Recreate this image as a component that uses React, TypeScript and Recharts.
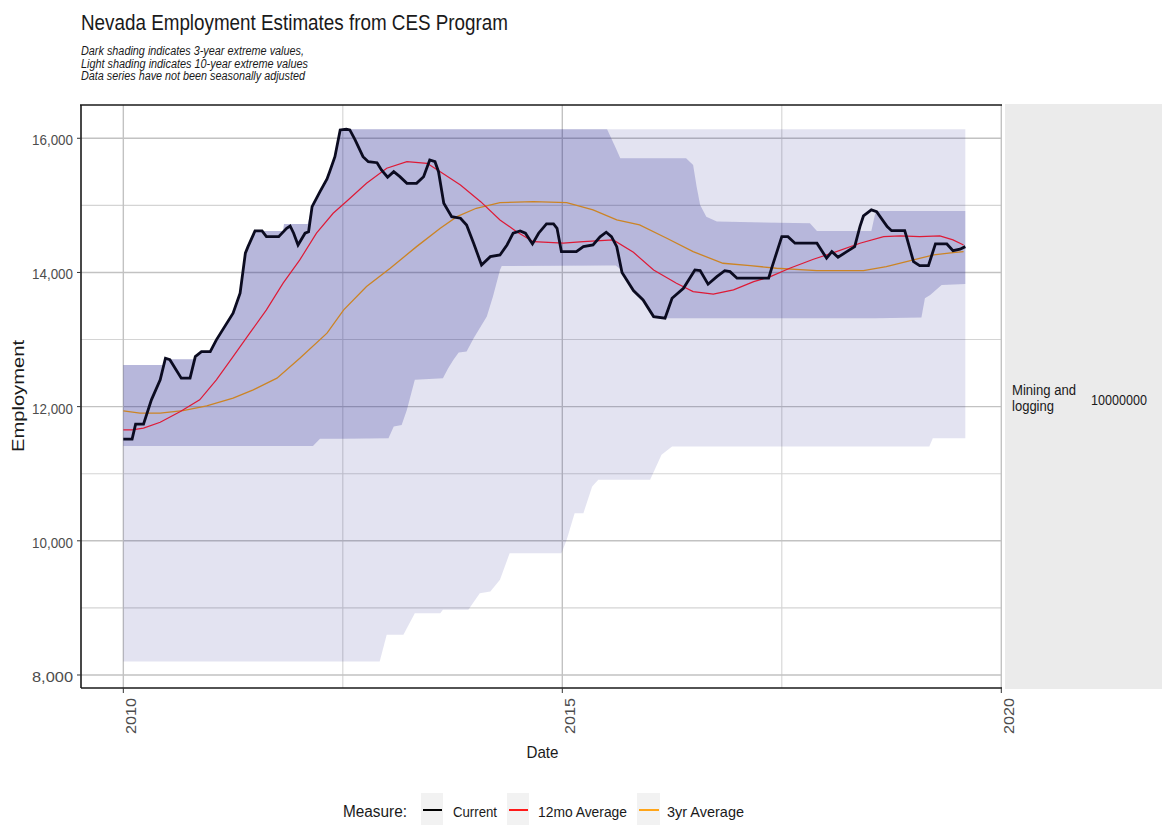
import React from "react";
import { ComposedChart, Area, Line, XAxis, YAxis, CartesianGrid } from "recharts";

// [decimal year, employment]
const current = [
  [2010.0, 11515], [2010.1, 11515], [2010.14, 11740], [2010.23, 11740], [2010.32, 12101], [2010.42, 12400],
  [2010.48, 12722], [2010.53, 12700], [2010.66, 12424], [2010.76, 12424], [2010.82, 12746], [2010.89, 12820],
  [2010.99, 12820], [2011.06, 12995], [2011.25, 13392], [2011.33, 13690], [2011.39, 14287], [2011.42, 14385],
  [2011.5, 14619], [2011.58, 14619], [2011.63, 14534], [2011.77, 14534], [2011.86, 14659], [2011.9, 14693],
  [2011.94, 14585], [2011.99, 14410], [2012.07, 14585], [2012.11, 14608], [2012.15, 14981], [2012.24, 15205],
  [2012.32, 15394], [2012.35, 15502], [2012.41, 15726], [2012.47, 16124], [2012.54, 16134], [2012.58, 16124],
  [2012.64, 15975], [2012.73, 15726], [2012.79, 15651], [2012.89, 15636], [2012.94, 15528], [2013.01, 15419],
  [2013.08, 15502], [2013.15, 15428], [2013.23, 15329], [2013.34, 15329], [2013.42, 15428], [2013.49, 15677],
  [2013.55, 15651], [2013.59, 15502], [2013.65, 15031], [2013.74, 14832], [2013.84, 14808], [2013.91, 14708],
  [2013.99, 14436], [2014.08, 14112], [2014.18, 14236], [2014.29, 14261], [2014.37, 14410], [2014.44, 14585],
  [2014.52, 14619], [2014.58, 14585], [2014.66, 14425], [2014.73, 14585], [2014.82, 14723], [2014.9, 14723],
  [2014.94, 14659], [2014.99, 14310], [2015.16, 14310], [2015.24, 14385], [2015.35, 14410], [2015.43, 14530],
  [2015.5, 14600], [2015.56, 14534], [2015.62, 14385], [2015.68, 14000], [2015.81, 13730], [2015.92, 13591],
  [2016.04, 13342], [2016.17, 13318], [2016.25, 13616], [2016.38, 13765], [2016.51, 14038], [2016.57, 14027],
  [2016.66, 13825], [2016.76, 13938], [2016.85, 14027], [2016.91, 14012], [2016.99, 13914], [2017.35, 13914],
  [2017.39, 14087], [2017.5, 14534], [2017.57, 14534], [2017.65, 14436], [2017.9, 14436], [2018.01, 14212],
  [2018.07, 14310], [2018.14, 14227], [2018.24, 14310], [2018.33, 14385], [2018.39, 14683], [2018.43, 14842],
  [2018.52, 14932], [2018.58, 14907], [2018.7, 14683], [2018.75, 14623], [2018.9, 14623], [2018.92, 14534],
  [2019.0, 14161], [2019.07, 14102], [2019.17, 14102], [2019.25, 14425], [2019.38, 14425], [2019.45, 14325],
  [2019.53, 14346], [2019.59, 14385],
];

const avg12mo = [
  [2010.0, 11654], [2010.1, 11654], [2010.23, 11679], [2010.42, 11768], [2010.65, 11926], [2010.87, 12101],
  [2011.06, 12399], [2011.25, 12746], [2011.44, 13095], [2011.63, 13442], [2011.82, 13840], [2012.01, 14187],
  [2012.2, 14585], [2012.39, 14882], [2012.56, 15081], [2012.77, 15329], [2013.0, 15553], [2013.23, 15651],
  [2013.46, 15627], [2013.61, 15502], [2013.84, 15304], [2014.07, 15055], [2014.29, 14783], [2014.48, 14608],
  [2014.67, 14459], [2015.01, 14436], [2015.24, 14459], [2015.58, 14485], [2015.81, 14300], [2016.04, 14038],
  [2016.3, 13840], [2016.49, 13714], [2016.72, 13676], [2016.95, 13740], [2017.18, 13863], [2017.37, 13938],
  [2017.59, 14063], [2017.86, 14197], [2018.09, 14296], [2018.39, 14436], [2018.66, 14534], [2018.85, 14544],
  [2019.07, 14534], [2019.3, 14544], [2019.45, 14485], [2019.57, 14410],
];

const avg3yr = [
  [2010.0, 11937], [2010.19, 11903], [2010.42, 11903], [2010.68, 11941], [2010.95, 12011], [2011.25, 12126],
  [2011.48, 12250], [2011.75, 12424], [2012.01, 12722], [2012.32, 13095], [2012.51, 13442], [2012.77, 13789],
  [2013.04, 14063], [2013.34, 14385], [2013.61, 14659], [2013.8, 14832], [2014.02, 14957], [2014.29, 15040],
  [2014.67, 15055], [2015.05, 15040], [2015.35, 14932], [2015.62, 14783], [2015.88, 14708], [2016.19, 14510],
  [2016.49, 14310], [2016.83, 14137], [2017.14, 14102], [2017.44, 14063], [2017.9, 14027], [2018.43, 14027],
  [2018.69, 14087], [2019.0, 14187], [2019.23, 14261], [2019.45, 14296], [2019.57, 14310],
];

// [decimal year, low, high] : 3-year extremes
const band3yr = [
  [2010.0, 11415, 12620], [2010.45, 11415, 12620], [2010.47, 11415, 12707], [2010.82, 11415, 12707],
  [2010.89, 11415, 12820], [2010.99, 11415, 12820], [2011.06, 11415, 12995], [2011.25, 11415, 13392],
  [2011.33, 11415, 13690], [2011.39, 11415, 14287], [2011.42, 11415, 14385], [2011.5, 11415, 14619],
  [2011.82, 11415, 14619], [2011.83, 11415, 14723], [2012.1, 11415, 14723], [2012.15, 11415, 14981],
  [2012.16, 11415, 15020], [2012.24, 11520, 15205], [2012.32, 11520, 15394], [2012.35, 11520, 15502],
  [2012.41, 11520, 15726], [2012.47, 11520, 16124], [2012.5, 11520, 16134], [2013.02, 11530, 16134],
  [2013.08, 11703, 16134], [2013.17, 11728, 16134], [2013.23, 11952, 16134], [2013.32, 12399, 16134],
  [2013.64, 12424, 16134], [2013.7, 12573, 16134], [2013.76, 12697, 16134], [2013.82, 12806, 16134],
  [2013.91, 12820, 16134], [2013.99, 13020, 16134], [2014.14, 13342, 16134], [2014.21, 13640, 16134],
  [2014.29, 14038, 16134], [2014.31, 14097, 16134], [2015.51, 14102, 16134], [2015.61, 14102, 15850],
  [2015.66, 14050, 15702], [2015.68, 14000, 15702], [2015.81, 13730, 15702], [2015.92, 13591, 15702],
  [2016.04, 13342, 15702], [2016.11, 13318, 15702], [2016.41, 13318, 15702], [2016.49, 13318, 15602],
  [2016.53, 13318, 15279], [2016.57, 13318, 15006], [2016.64, 13318, 14832], [2016.76, 13318, 14758],
  [2017.82, 13318, 14734], [2017.9, 13318, 14619], [2018.52, 13318, 14619], [2018.57, 13318, 14917],
  [2019.09, 13330, 14917], [2019.13, 13616, 14917], [2019.19, 13665, 14917], [2019.32, 13814, 14917],
  [2019.59, 13829, 14917],
];

// 10-year extremes
const band10yr = [
  [2010.0, 8201, 12620], [2010.45, 8201, 12620], [2010.47, 8201, 12707], [2010.82, 8201, 12707],
  [2010.89, 8201, 12820], [2010.99, 8201, 12820], [2011.06, 8201, 12995], [2011.25, 8201, 13392],
  [2011.33, 8201, 13690], [2011.39, 8201, 14287], [2011.42, 8201, 14385], [2011.5, 8201, 14619],
  [2011.82, 8201, 14619], [2011.83, 8201, 14723], [2012.1, 8201, 14723], [2012.15, 8201, 14981],
  [2012.24, 8201, 15205], [2012.32, 8201, 15394], [2012.35, 8201, 15502], [2012.41, 8201, 15726],
  [2012.47, 8201, 16124], [2012.5, 8201, 16134], [2012.92, 8201, 16134], [2013.0, 8600, 16134],
  [2013.19, 8600, 16134], [2013.32, 8922, 16134], [2013.61, 8922, 16134], [2013.64, 8972, 16134],
  [2013.93, 8972, 16134], [2014.06, 9220, 16134], [2014.18, 9244, 16134], [2014.29, 9419, 16134],
  [2014.4, 9816, 16134], [2014.99, 9816, 16134], [2015.05, 10015, 16134], [2015.14, 10412, 16134],
  [2015.24, 10412, 16134], [2015.34, 10809, 16134], [2015.41, 10909, 16134], [2016.0, 10909, 16134],
  [2016.13, 11281, 16134], [2016.25, 11405, 16134], [2019.18, 11405, 16134], [2019.22, 11530, 16134],
  [2019.59, 11530, 16134],
];

const yTicks = [8000, 10000, 12000, 14000, 16000];
const yMinor = [9000, 11000, 13000, 15000];
const xTicks = [2010, 2015, 2020];
const xMinor = [2012.5, 2017.5];

const FONT = "'Liberation Sans', Arial, sans-serif";
const pts = (a: number[][]) => a.map(([t, v]) => ({ t, v }));
const rng = (a: number[][]) => a.map(([t, lo, hi]) => ({ t, range: [lo, hi] }));

function YTick({ y, payload }: any) {
  return (
    <text x={73} y={y + 1.5} textAnchor="end" dominantBaseline="central" fontSize={15} fill="#4d4d4d"
      fontFamily={FONT} textLength={41} lengthAdjust="spacingAndGlyphs">
      {payload.value.toLocaleString("en-US")}
    </text>
  );
}

function XTick({ x, payload }: any) {
  const cx = x + 7;
  return (
    <text x={cx} y={698} transform={`rotate(-90, ${cx}, 698)`} textAnchor="end" dominantBaseline="central"
      fontSize={15} fill="#4d4d4d" fontFamily={FONT} textLength={36} lengthAdjust="spacingAndGlyphs">
      {payload.value}
    </text>
  );
}

export default function App() {
  return (
    <div style={{ position: "absolute", left: 0, top: 0, width: 1162, height: 825, background: "#fff" }}>
      <ComposedChart width={1162} height={825} margin={{ top: 105, right: 160, bottom: 87, left: 0 }}>
        <CartesianGrid horizontalValues={yMinor} verticalValues={xMinor} stroke="#d4d4d4" strokeWidth={1.1} />
        <CartesianGrid horizontalValues={yTicks} verticalValues={xTicks} stroke="#c2c2c2" strokeWidth={1.4} />
        <XAxis type="number" dataKey="t" domain={[2009.518, 2020.008]} ticks={xTicks} allowDataOverflow
          height={50} tick={<XTick />} tickSize={5} axisLine={{ stroke: "#1a1a1a", strokeWidth: 1.6 }}
          tickLine={{ stroke: "#333" }} />
        <YAxis type="number" domain={[7806, 16496]} ticks={yTicks} allowDataOverflow width={81}
          tick={<YTick />} tickSize={4} axisLine={{ stroke: "#1a1a1a", strokeWidth: 1.6 }}
          tickLine={{ stroke: "#333" }} />
        <Area data={rng(band10yr)} dataKey="range" type="linear" stroke="none" fill="#1a1a8c" fillOpacity={0.12}
          isAnimationActive={false} activeDot={false} />
        <Area data={rng(band3yr)} dataKey="range" type="linear" stroke="none" fill="#1a1a8c" fillOpacity={0.22}
          isAnimationActive={false} activeDot={false} />
        <Line data={pts(avg3yr)} dataKey="v" type="linear" stroke="#cc8424" strokeWidth={1.3} dot={false}
          activeDot={false} isAnimationActive={false} />
        <Line data={pts(avg12mo)} dataKey="v" type="linear" stroke="#de1a36" strokeWidth={1.2} dot={false}
          activeDot={false} isAnimationActive={false} />
        <Line data={pts(current)} dataKey="v" type="linear" stroke="#0b0b20" strokeWidth={2.8} dot={false}
          activeDot={false} isAnimationActive={false} />
      </ComposedChart>
      <svg width={1162} height={825} style={{ position: "absolute", left: 0, top: 0, pointerEvents: "none" }}
        fontFamily={FONT}>
        <line x1={80} x2={1002} y1={105} y2={105} stroke="#1a1a1a" strokeWidth={1.6} />
        <text x={81} y={30} fontSize={22} fill="#1a1a1a" textLength={427} lengthAdjust="spacingAndGlyphs">
          Nevada Employment Estimates from CES Program
        </text>
        <g fontSize={12} fontStyle="italic" fill="#1a1a1a">
          <text x={81} y={55} textLength={223} lengthAdjust="spacingAndGlyphs">Dark shading indicates 3-year extreme values,</text>
          <text x={81} y={67.5} textLength={227} lengthAdjust="spacingAndGlyphs">Light shading indicates 10-year extreme values</text>
          <text x={81} y={80} textLength={224} lengthAdjust="spacingAndGlyphs">Data series have not been seasonally adjusted</text>
        </g>
        <text x={24} y={396} transform="rotate(-90, 24, 396)" textAnchor="middle" fontSize={17} fill="#1a1a1a"
          textLength={112} lengthAdjust="spacingAndGlyphs">Employment</text>
        <text x={542.5} y={758} textAnchor="middle" fontSize={17} fill="#1a1a1a" textLength={32}
          lengthAdjust="spacingAndGlyphs">Date</text>
        <rect x={1005} y={104} width={157} height={585} fill="#ebebeb" />
        <g fontSize={14} fill="#1a1a1a">
          <text x={1012} y={395} textLength={64} lengthAdjust="spacingAndGlyphs">Mining and</text>
          <text x={1012} y={411} textLength={42} lengthAdjust="spacingAndGlyphs">logging</text>
          <text x={1091} y={405} textLength={56} lengthAdjust="spacingAndGlyphs">10000000</text>
        </g>
        <text x={343} y={817} fontSize={16} fill="#1a1a1a" textLength={64} lengthAdjust="spacingAndGlyphs">Measure:</text>
        <rect x={421} y={793} width={22} height={32} fill="#f2f2f2" />
        <line x1={423} x2={442} y1={810} y2={810} stroke="#000" strokeWidth={2} />
        <text x={453} y={817} fontSize={15} fill="#1a1a1a" textLength={44} lengthAdjust="spacingAndGlyphs">Current</text>
        <rect x={507} y={793} width={22} height={32} fill="#f2f2f2" />
        <line x1={509} x2={528} y1={810} y2={810} stroke="#ff1a1a" strokeWidth={2} />
        <text x={538} y={817} fontSize={15} fill="#1a1a1a" textLength={89} lengthAdjust="spacingAndGlyphs">12mo Average</text>
        <rect x={637} y={793} width={23} height={32} fill="#f2f2f2" />
        <line x1={639} x2={659} y1={810} y2={810} stroke="#ffa51a" strokeWidth={2} />
        <text x={667} y={817} fontSize={15} fill="#1a1a1a" textLength={77} lengthAdjust="spacingAndGlyphs">3yr Average</text>
      </svg>
    </div>
  );
}
